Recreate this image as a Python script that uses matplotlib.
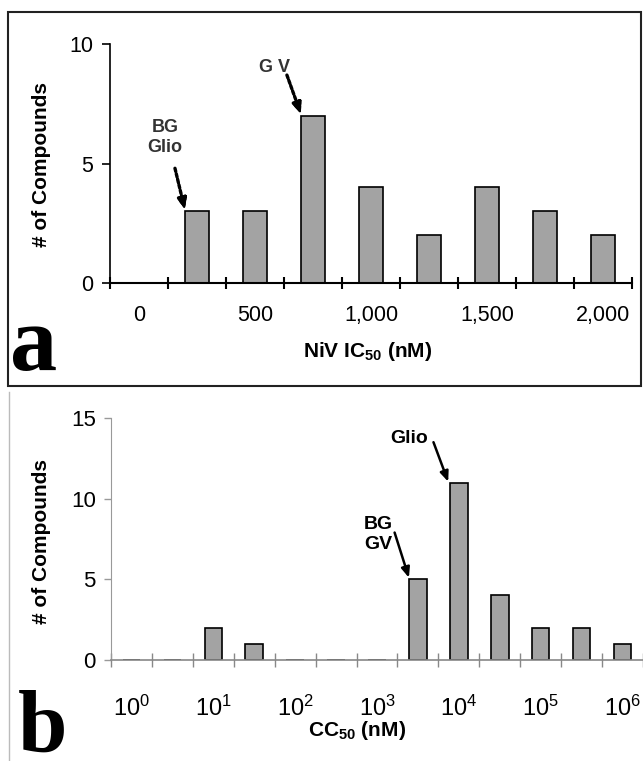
import matplotlib.pyplot as plt
import numpy as np

plt.rcParams['font.family'] = ['Liberation Sans', 'DejaVu Sans']
plt.rcParams['mathtext.fontset'] = 'custom'
plt.rcParams['mathtext.rm'] = 'Liberation Sans'
plt.rcParams['mathtext.bf'] = 'Liberation Sans:bold'
plt.rcParams['mathtext.it'] = 'Liberation Sans:italic'

# panel a: NiV IC50 bins (nM)
ic50_bins = ['0', '250', '500', '750', '1,000', '1,250', '1,500', '1,750', '2,000']
ic50_counts = [0, 3, 3, 7, 4, 2, 4, 3, 2]
ic50_labels = ['0', '', '500', '', '1,000', '', '1,500', '', '2,000']

# panel b: CC50 bins, half decades from 10^0 to 10^6
cc50_exp = [0, 0.5, 1, 1.5, 2, 2.5, 3, 3.5, 4, 4.5, 5, 5.5, 6]
cc50_counts = [0, 0, 2, 1, 0, 0, 0, 5, 11, 4, 2, 2, 1]
cc50_labels = [r'$\mathrm{10^{%d}}$' % e if e == int(e) else '' for e in cc50_exp]

bar_color = '#a3a3a3'
W, H = 643, 761

fig = plt.figure(figsize=(W / 100, H / 100), dpi=100)

# frame around panel a
fig.add_artist(plt.Rectangle((8 / W, 1 - 386 / H), 633 / W, 374 / H,
                             transform=fig.transFigure, fill=False,
                             edgecolor='#222222', lw=1.5))
fig.add_artist(plt.Line2D([9 / W, 9 / W], [0, 1 - 392 / H],
                          transform=fig.transFigure, color='#bbbbbb', lw=1))

# ---- panel a ----
ax1 = fig.add_axes([110 / W, 1 - 283 / H, 522 / W, 239 / H])
x1 = np.arange(len(ic50_bins))
ax1.bar(x1, ic50_counts, width=0.43, color=bar_color, edgecolor='black', lw=1.2, zorder=2)
ax1.set_xlim(-0.5, len(ic50_bins) - 0.5)
ax1.set_ylim(0, 10)
ax1.spines[['top', 'right']].set_visible(False)
ax1.spines['left'].set_linewidth(1.2)
ax1.spines['bottom'].set_linewidth(1.5)
ax1.set_yticks([0, 5, 10])
ax1.tick_params(axis='y', direction='out', length=6, width=1.2, labelsize=15.5, pad=6)
ax1.set_xticks(np.arange(len(ic50_bins) + 1) - 0.5)
ax1.set_xticklabels([])
ax1.tick_params(axis='x', which='major', direction='inout', length=9, width=1.5)
ax1.set_xticks(x1, minor=True)
ax1.set_xticklabels(ic50_labels, minor=True)
ax1.tick_params(axis='x', which='minor', length=0, labelsize=15.5, pad=16)
ax1.set_ylabel('# of Compounds', fontsize=15, fontweight='bold')
ax1.yaxis.set_label_coords(-0.113, 0.494)
ax1.set_xlabel(r'NiV IC$_{\mathbf{50}}$ (nM)', fontsize=15, fontweight='bold')
ax1.xaxis.set_label_coords(0.494, -0.24)

ax1.text(0.45, 6.1, 'BG\nGlio', ha='center', va='center', fontsize=13,
         fontweight='bold', color='#333333', linespacing=1.2)
ax1.text(2.33, 9.0, 'G V', ha='center', va='center', fontsize=13,
         fontweight='bold', color='#333333')
for start, end in [((0.62, 4.8), (0.79, 3.08)), ((2.55, 8.7), (2.79, 7.08))]:
    ax1.annotate('', xy=end, xytext=start,
                 arrowprops=dict(arrowstyle='-|>,head_length=0.6,head_width=0.25',
                                 color='black', lw=2.4, linestyle=(0, (1.0, 0.7)),
                                 shrinkA=0, shrinkB=0))
    ax1.annotate('', xy=end, xytext=(end[0] - (end[0] - start[0]) * 0.25,
                                     end[1] - (end[1] - start[1]) * 0.25),
                 arrowprops=dict(arrowstyle='-|>,head_length=0.6,head_width=0.25',
                                 color='black', lw=1.5, shrinkA=0, shrinkB=0))

# ---- panel b ----
ax2 = fig.add_axes([111 / W, 1 - 660 / H, 532 / W, 242 / H])
x2 = np.arange(len(cc50_exp))
ax2.bar(x2, cc50_counts, width=0.43, color=bar_color, edgecolor='black', lw=1.2, zorder=2)
ax2.set_xlim(-0.5, len(cc50_exp) - 0.5)
ax2.set_ylim(0, 15)
ax2.spines[['top', 'right']].set_visible(False)
ax2.spines['left'].set_color('#999999')
ax2.spines['bottom'].set_color('#888888')
ax2.spines['bottom'].set_linewidth(1.2)
ax2.set_yticks([0, 5, 10, 15])
ax2.tick_params(axis='y', direction='out', length=5, width=1, color='#999999',
                labelsize=16, pad=6)
ax2.set_xticks(np.arange(len(cc50_exp) + 1) - 0.5)
ax2.set_xticklabels([])
ax2.tick_params(axis='x', which='major', direction='inout', length=10, width=1,
                color='#888888')
ax2.set_xticks(x2, minor=True)
ax2.set_xticklabels(cc50_labels, minor=True)
ax2.tick_params(axis='x', which='minor', length=0, labelsize=17, pad=26)
ax2.set_ylabel('# of Compounds', fontsize=15, fontweight='bold')
ax2.yaxis.set_label_coords(-0.113, 0.488)
ax2.set_xlabel(r'CC$_{\mathbf{50}}$ (nM)', fontsize=15, fontweight='bold')
ax2.xaxis.set_label_coords(0.463, -0.245)

ax2.text(6.79, 13.76, 'Glio', ha='center', va='center', fontsize=14, fontweight='bold')
ax2.text(6.04, 7.8, 'BG\nGV', ha='center', va='center', fontsize=14,
         fontweight='bold', linespacing=1.25)
for start, end in [((7.38, 13.5), (7.74, 11.05)), ((6.43, 7.9), (6.78, 5.1))]:
    ax2.annotate('', xy=end, xytext=start,
                 arrowprops=dict(arrowstyle='-|>,head_length=0.6,head_width=0.25',
                                 color='black', lw=1.8, shrinkA=0, shrinkB=0))

# panel letters
fig.text(10 / W, 1 - 370 / H, 'a', fontsize=68, fontweight='bold',
         family='Liberation Serif', va='baseline')
fig.text(18 / W, 1 - 752 / H, 'b', fontsize=64, fontweight='bold',
         family='Liberation Serif', va='baseline')

fig.savefig('out.png', dpi=100)
